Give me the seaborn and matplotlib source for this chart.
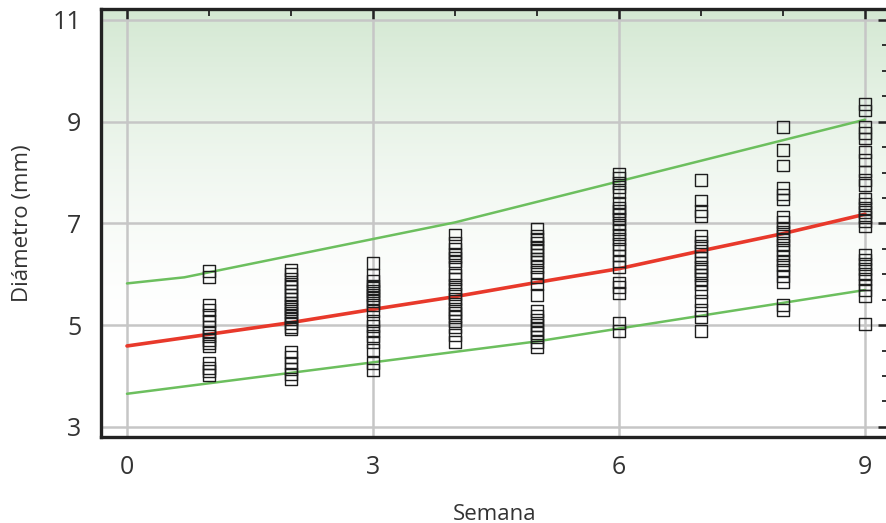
import numpy as np
import pandas as pd
import matplotlib
matplotlib.use("Agg")
import matplotlib.pyplot as plt
from matplotlib.ticker import MultipleLocator, FixedLocator
import seaborn as sns

# Diameter measurements (mm) per week
week1 = [6.06, 5.94, 5.39, 5.29, 5.20, 5.08, 4.96, 4.86, 4.78, 4.71, 4.65, 4.59,
         4.25, 4.16, 4.10, 4.02]
week2 = [6.08, 6.00, 5.90, 5.82, 5.75, 5.67, 5.59, 5.51, 5.43, 5.37, 5.31, 5.25,
         5.18, 5.12, 5.04, 4.96, 4.92, 4.47, 4.37, 4.25, 4.14, 4.04, 3.94]
week3 = [6.22, 5.98, 5.86, 5.78, 5.73, 5.67, 5.59, 5.53, 5.47, 5.39, 5.27, 5.08,
         4.98, 4.88, 4.78, 4.67, 4.51, 4.25, 4.12]
week4 = [6.78, 6.61, 6.49, 6.41, 6.33, 6.25, 6.14, 5.98, 5.90, 5.80, 5.71, 5.61,
         5.51, 5.41, 5.31, 5.24, 5.16, 5.08, 4.96, 4.80, 4.67]
week5 = [6.90, 6.76, 6.69, 6.61, 6.53, 6.47, 6.39, 6.31, 6.24, 6.14, 6.04, 5.94,
         5.80, 5.59, 5.27, 5.18, 5.10, 5.00, 4.92, 4.84, 4.76, 4.67, 4.57]
week6 = [7.98, 7.90, 7.80, 7.71, 7.61, 7.41, 7.31, 7.24, 7.16, 7.08, 6.98, 6.88,
         6.78, 6.69, 6.59, 6.49, 6.37, 6.25, 6.14, 5.84, 5.75, 5.63, 5.04, 4.88]
week7 = [7.86, 7.45, 7.24, 7.14, 6.75, 6.63, 6.55, 6.45, 6.33, 6.22, 6.14, 6.06,
         5.98, 5.90, 5.80, 5.65, 5.47, 5.29, 5.16, 4.88]
week8 = [8.90, 8.45, 8.14, 7.69, 7.57, 7.47, 7.12, 7.02, 6.92, 6.84, 6.76, 6.67,
         6.57, 6.47, 6.37, 6.27, 6.18, 6.08, 5.96, 5.84, 5.39, 5.29]
week9 = [9.35, 9.22, 8.90, 8.78, 8.67, 8.41, 8.24, 8.02, 7.86, 7.76, 7.49, 7.39,
         7.31, 7.22, 7.12, 7.04, 6.94, 6.39, 6.29, 6.20, 6.10, 6.00, 5.90, 5.80,
         5.69, 5.57, 5.02]

# Fitted growth curve and its upper / lower bounds
fit_weeks = [0, 1, 2, 3, 4, 5, 6, 7, 8, 9]
fit_mean = [4.59, 4.82, 5.05, 5.31, 5.56, 5.84, 6.11, 6.46, 6.80, 7.18]
upper_weeks = [0, 0.7, 4, 9]
upper_vals = [5.82, 5.94, 7.02, 9.04]
lower_weeks = [0, 5, 9]
lower_vals = [3.65, 4.68, 5.69]

x_ticks = [0, 3, 6, 9]
y_ticks = [3, 5, 7, 9, 11]

all_weeks = [week1, week2, week3, week4, week5, week6, week7, week8, week9]
df = pd.DataFrame({
    "Semana": [i + 1 for i, w in enumerate(all_weeks) for _ in w],
    "Diametro": [v for w in all_weeks for v in w],
})

sns.set_style("white")
plt.rcParams["font.family"] = ["Open Sans", "DejaVu Sans"]

W, H = 887, 523
fig = plt.figure(figsize=(W / 100, H / 100), dpi=100)
ax = fig.add_axes([101 / W, 1 - 437 / H, (889 - 101) / W, (437 - 9) / H])

xlim = (-0.317, 9.293)
ylim = (2.80, 11.216)

# Green-to-white vertical background gradient
ys = np.linspace(ylim[0], ylim[1], 400)
t = np.clip((ys - 5.0) / (ylim[1] - 5.0), 0, 1) ** 1.5
top = np.array([0.83, 0.91, 0.825])
cols = (1 - t)[:, None] * np.ones(3) + t[:, None] * top
ax.imshow(cols[:, None, :], extent=[xlim[0], xlim[1], ylim[0], ylim[1]],
          origin="lower", aspect="auto", zorder=0, interpolation="bilinear")

sns.lineplot(x=upper_weeks, y=upper_vals, ax=ax, color="#6cbf5e", lw=1.8, zorder=3)
sns.lineplot(x=lower_weeks, y=lower_vals, ax=ax, color="#6cbf5e", lw=1.8, zorder=3)
sns.lineplot(x=fit_weeks, y=fit_mean, ax=ax, color="#e8392b", lw=2.6, zorder=3)
sns.scatterplot(data=df, x="Semana", y="Diametro", ax=ax, marker="s", s=72,
                facecolors="none", edgecolor="#1e1e1e", linewidth=1.0, zorder=4)

ax.set_xlim(*xlim)
ax.set_ylim(*ylim)
ax.set_axisbelow(True)
ax.xaxis.set_major_locator(FixedLocator(x_ticks))
ax.yaxis.set_major_locator(FixedLocator(y_ticks))
ax.xaxis.set_minor_locator(MultipleLocator(1))
ax.yaxis.set_minor_locator(MultipleLocator(0.5))
ax.grid(True, which="major", color="#c6c6c6", lw=1.8)

ax.tick_params(which="major", direction="in", length=8, width=1.8, color="#222222",
               top=True, right=True, labelsize=18, labelcolor="#333333", pad=14)
ax.tick_params(which="minor", direction="in", length=5, width=1.3, color="#222222",
               top=True, right=True)
ax.tick_params(axis="x", which="major", pad=13)

for s in ax.spines.values():
    s.set_color("#222222")
    s.set_linewidth(2.4)
    s.set_visible(True)

ax.set_xlabel("Semana", fontsize=16, color="#333333", labelpad=17)
ax.set_ylabel("Diámetro (mm)", fontsize=16, color="#333333", labelpad=14)

fig.savefig("out.png", dpi=100)
